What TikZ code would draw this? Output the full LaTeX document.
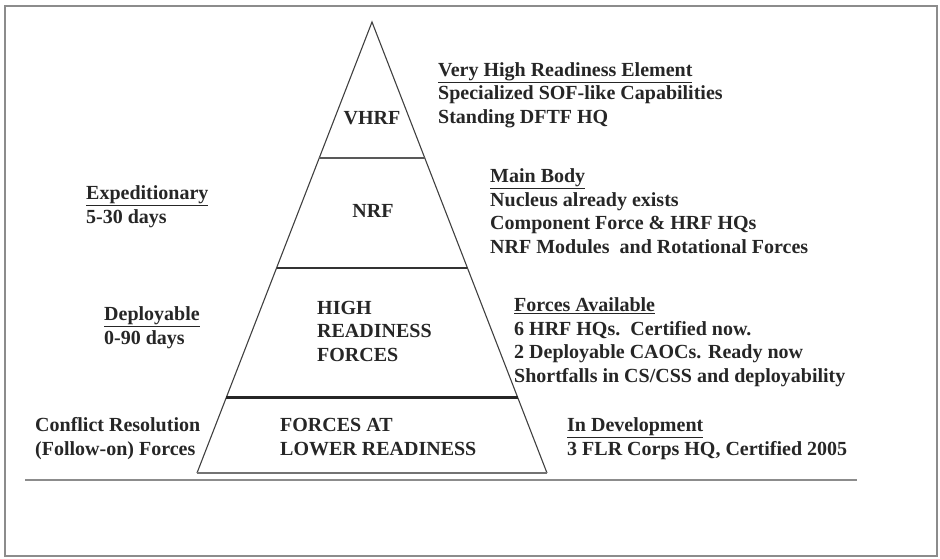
\documentclass[tikz,border=0pt]{standalone}
\usepackage{fontspec}
\setmainfont{Liberation Serif}
\usetikzlibrary{calc}
\begin{document}
\begin{tikzpicture}[x=1pt,y=-1pt,
  txt/.style={anchor=base west,inner sep=0pt,font=\fontsize{20}{23.4}\selectfont\bfseries,text=black!85,align=left},
  ctr/.style={txt,anchor=base},
  edge/.style={draw=black!75,line width=1.1pt},
  frame/.style={draw=black!45,line width=1.6pt}]
\useasboundingbox (0,0) rectangle (940,558);
\draw[frame] (5,6) rectangle (937,556);
% pyramid
\coordinate (apex) at (372,22);
\coordinate (bl) at (197,473);
\coordinate (br) at (547,473);
\draw[edge,line join=miter] (bl) -- (apex) -- (br);
\draw[draw=black!55,line width=1.6pt] (bl) -- (br);
\draw[draw=black!65,line width=1.4pt] ($(apex)!0.3016!(bl)$) -- ($(apex)!0.3016!(br)$);
\draw[draw=black!80,line width=2.4pt] ($(apex)!0.5455!(bl)$) -- ($(apex)!0.5455!(br)$);
\draw[draw=black!85,line width=3pt] ($(apex)!0.8315!(bl)$) -- ($(apex)!0.8315!(br)$);
\draw[draw=black!45,line width=1.8pt] (25,480) -- (857,480);
% pyramid labels (base = last line)
\node[ctr] (vhrf) at (372,124) {VHRF};
\node[ctr] (nrf) at (373,217) {NRF};
\node[txt] (hrf) at (317,361) {HIGH\\READINESS\\FORCES};
\node[txt] (flr) at (280,455) {FORCES AT\\LOWER READINESS};
% left labels
\node[txt] (exp) at (86,223) {\underline{Expeditionary}\\5-30 days};
\node[txt] (dep) at (104,344) {\underline{Deployable}\\0-90 days};
\node[txt] (cr) at (35,455) {Conflict Resolution\\(Follow-on) Forces};
% right labels
\node[txt] (vhre) at (438,123) {\underline{Very High Readiness Element}\\Specialized SOF-like Capabilities\\Standing DFTF HQ};
\node[txt] (mb) at (490,253) {\underline{Main Body}\\Nucleus already exists\\Component Force \& HRF HQs\\NRF Modules\ \ and Rotational Forces};
\node[txt] (fa) at (514,382) {\underline{Forces Available}\\6 HRF HQs.\ \ Certified now.\\2 Deployable CAOCs. Ready now\\Shortfalls in CS/CSS and deployability};
\node[txt] (id) at (567,455) {\underline{In Development}\\3 FLR Corps HQ, Certified 2005};
\end{tikzpicture}
\end{document}
